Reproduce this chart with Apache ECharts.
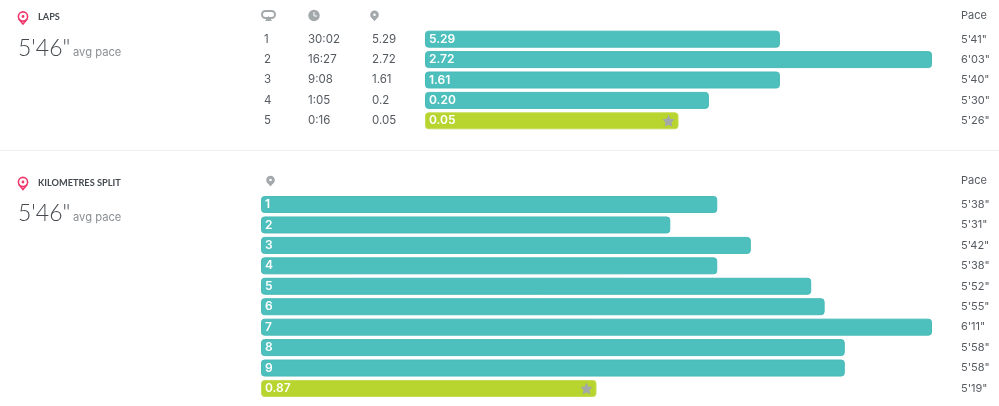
<!DOCTYPE html>
<html>
<head>
<meta charset="utf-8">
<style>html,body{margin:0;padding:0;background:#fff}#c{width:999px;height:406px}</style>
<script src="https://cdn.jsdelivr.net/npm/echarts@6/dist/echarts.min.js"></script>
</head>
<body>
<div id="c"></div>
<script>
const lapNumbers = ['1','2','3','4','5'];
const lapTimes = ['30:02','16:27','9:08','1:05','0:16'];
const lapDistances = ['5.29','2.72','1.61','0.2','0.05'];
const lapBarLabels = ['5.29','2.72','1.61','0.20','0.05'];
const lapPaces = ["5'41\"","6'03\"","5'40\"","5'30\"","5'26\""];
const lapBarLengths = [70,100,70,56,50];
const lapBest = 4;

const kmBarLabels = ['1','2','3','4','5','6','7','8','9','0.87'];
const kmPaces = ["5'38\"","5'31\"","5'42\"","5'38\"","5'52\"","5'55\"","6'11\"","5'58\"","5'58\"","5'19\""];
const kmBarLengths = [68,61,73,68,82,84,100,87,87,50];
const kmBest = 9;

const FONT = 'Inter', HEAD = 'Lato';
const TEAL = '#4dbfbd', LIME = '#b7d42f', TEXT = '#555a60', GREY = '#a3a8ab', PINK = '#f0386b';
const STAR = 'path://M50 0L65 33L100 38L75 63L81 100L50 82L19 100L25 63L0 38L35 33Z';

function colAxis(grid, data, position, margin, size){
  return {type:'category', gridIndex:grid, data, inverse:true, position, offset:0,
    axisLine:{show:false}, axisTick:{show:false}, splitLine:{show:false},
    axisLabel:{show:true, align:'left', margin, color:TEXT, fontFamily:FONT, fontSize:size||11.5, padding:[2,0,0,0]}};
}
function barSeries(xi, yi, values, labels, best){
  return {type:'bar', xAxisIndex:xi, yAxisIndex:yi, barWidth:17, silent:true,
    data: values.map((v,i)=>({value:v, itemStyle:{color:i===best?LIME:TEAL, borderRadius:3,
      borderColor:i===best?'#c3dc55':'#48bbb9', borderWidth:1}})),
    label:{show:true, position:'insideLeft', distance:4, color:'#fff', fontFamily:FONT, fontWeight:600, fontSize:12,
      formatter:p=>labels[p.dataIndex]}};
}
function starSeries(xi, yi, values, best){
  return {type:'scatter', xAxisIndex:xi, yAxisIndex:yi, silent:true, symbol:STAR, symbolSize:12, symbolOffset:[-10,0],
    itemStyle:{color:GREY, opacity:1}, data:[[values[best], best]], z:5};
}
function txt(x,y,text,size,color,weight,family){
  return {type:'text', x, y, style:{text, fontFamily:family||FONT, fontSize:size, fill:color, fontWeight:weight||'normal', textVerticalAlign:'middle'}};
}
function pinRing(cx,cy,color){
  return {type:'group', children:[
    {type:'circle', shape:{cx, cy, r:4.6}, style:{fill:'none', stroke:color, lineWidth:1.6}},
    {type:'polyline', shape:{points:[[cx-4.2,cy+2.4],[cx,cy+7.5],[cx+4.2,cy+2.4]]}, style:{fill:'none', stroke:color, lineWidth:1.6}},
    {type:'circle', shape:{cx, cy, r:1.4}, style:{fill:color}}
  ]};
}
function pinSolid(cx,cy,color){
  return {type:'group', children:[
    {type:'circle', shape:{cx, cy, r:4.3}, style:{fill:color}},
    {type:'polygon', shape:{points:[[cx-3.9,cy+1.8],[cx,cy+6.4],[cx+3.9,cy+1.8]]}, style:{fill:color}},
    {type:'circle', shape:{cx, cy, r:1.3}, style:{fill:'#fff'}}
  ]};
}

const chart = echarts.init(document.getElementById('c'), null, {renderer:'canvas'});
chart.setOption({
  animation:false,
  backgroundColor:'#fff',
  grid:[
    {left:425, right:67, top:29, height:102},
    {left:261, right:67, top:194.3, height:204.4}
  ],
  xAxis:[
    {type:'value', gridIndex:0, min:0, max:100, show:false},
    {type:'value', gridIndex:1, min:0, max:100, show:false}
  ],
  yAxis:[
    {type:'category', gridIndex:0, data:lapNumbers, inverse:true, axisLine:{show:false}, axisTick:{show:false}, axisLabel:{show:true, align:'left', margin:161, color:TEXT, fontFamily:FONT, fontSize:11.5, padding:[2,0,0,0]}},
    colAxis(0, lapTimes, 'left', 117),
    colAxis(0, lapDistances, 'left', 53),
    colAxis(0, lapPaces, 'right', 29, 11),
    {type:'category', gridIndex:1, data:kmBarLabels, inverse:true, axisLine:{show:false}, axisTick:{show:false}, axisLabel:{show:false}},
    colAxis(1, kmPaces, 'right', 29, 11)
  ],
  series:[
    barSeries(0,0,lapBarLengths,lapBarLabels,lapBest),
    starSeries(0,0,lapBarLengths,lapBest),
    barSeries(1,4,kmBarLengths,kmBarLabels,kmBest),
    starSeries(1,4,kmBarLengths,kmBest)
  ],
  graphic:[
    pinRing(23,16.5,PINK),
    txt(38,17.5,'LAPS',9.2,'#444a50','bold',HEAD),
    txt(18,49,"5'46\"",23,'#44494f',300,HEAD),
    txt(73,53,'avg pace',11.2,'#8a8f93'),
    {type:'rect', shape:{x:262,y:11,width:13,height:7,r:3.5}, style:{fill:'none',stroke:GREY,lineWidth:2}},
    {type:'polygon', shape:{points:[[265,21],[272,21],[268.5,16]]}, style:{fill:GREY}},
    {type:'circle', shape:{cx:314,cy:15.5,r:5.7}, style:{fill:GREY}},
    {type:'polyline', shape:{points:[[314,12],[314,16],[317,16]]}, style:{fill:'none',stroke:'#fff',lineWidth:1}},
    pinSolid(374.5,14.8,GREY),
    pinSolid(270.5,180,GREY),
    txt(961,16,'Pace',11,TEXT),
    {type:'line', shape:{x1:0,y1:150.5,x2:999,y2:150.5}, style:{stroke:'#eeeeee',lineWidth:1}},
    pinRing(23,182,PINK),
    txt(38,183.5,'KILOMETRES SPLIT',9.2,'#444a50','bold',HEAD),
    txt(18,214,"5'46\"",23,'#44494f',300,HEAD),
    txt(73,218,'avg pace',11.2,'#8a8f93'),
    txt(961,181,'Pace',11,TEXT)
  ]
});
</script>
</body>
</html>
